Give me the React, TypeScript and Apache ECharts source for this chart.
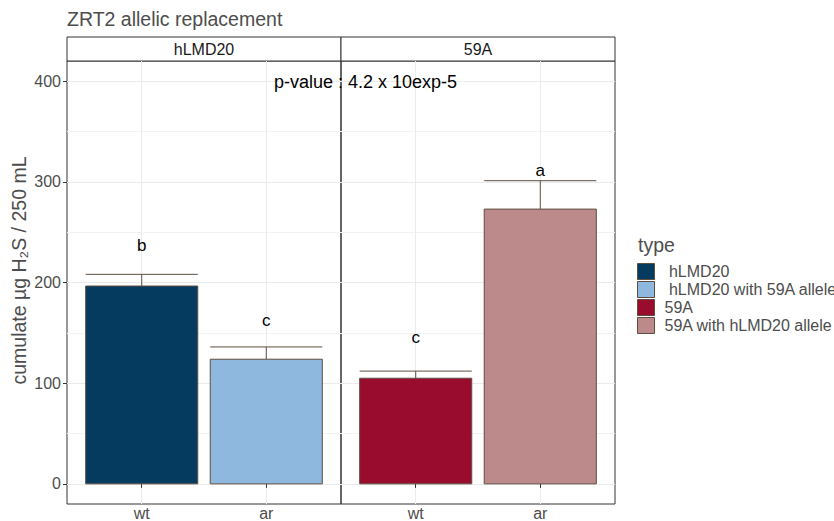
import React, { useEffect, useRef } from 'react';
import * as echarts from 'echarts';

const facets = ['hLMD20', '59A'];
const conditions = ['wt', 'ar'];
const types = [' hLMD20', ' hLMD20 with 59A allele', '59A', '59A with hLMD20 allele'];
const typeFacet = [0, 0, 1, 1];
const typeCondition = [1, 2, 1, 2];
const means = [196.5, 123.8, 104.9, 272.9];
const errTop = [208.1, 136.0, 112.0, 301.1];
const letters = ['b', 'c', 'c', 'a'];
const letterY = [236.5, 162, 145, 311.6];
const colors = ['#063b60', '#8fb8de', '#990c2e', '#bc8a8a'];
const yTicks = [0, 100, 200, 300, 400];
const yMinor = [50, 150, 250, 350];
const title = 'ZRT2 allelic replacement';
const yTitle = 'cumulate µg H₂S / 250 mL';
const legendTitle = 'type';
const pText = 'p-value : 4.2 x 10exp-5';

const FONT = '"Liberation Sans", Arial, sans-serif';
const GREY = '#4d4d4d';
const BORDER = '#333333';
const GRIDC = '#ebebeb';
const ERRC = '#5e4e40';

const PANEL_LEFT = 67;
const PANEL_W = 274;
const PANEL_TOP = 61;
const PANEL_H = 443;
const STRIP_TOP = 37;
const STRIP_H = 24;

export default function App() {
  const ref = useRef<HTMLDivElement>(null);
  useEffect(() => {
    if (!ref.current) return;
    const chart = echarts.init(ref.current, undefined, { renderer: 'svg' });

    const grids = facets.map((_, i) => ({
      left: PANEL_LEFT + i * PANEL_W,
      top: PANEL_TOP,
      width: PANEL_W,
      height: PANEL_H,
      show: true,
      borderColor: BORDER,
      borderWidth: 1,
      backgroundColor: 'transparent',
      containLabel: false,
      outerBoundsMode: 'none',
    }));

    const xAxes = facets.map((_, i) => ({
      type: 'value',
      gridIndex: i,
      min: 0.4,
      max: 2.6,
      axisLine: { show: false },
      axisTick: { show: true, customValues: [1, 2], length: 4, lineStyle: { color: BORDER, width: 1 } },
      axisLabel: {
        show: true,
        customValues: [1, 2],
        formatter: (v: number) => conditions[Math.round(v) - 1] ?? '',
        color: GREY,
        fontSize: 16,
        lineHeight: 16,
        fontFamily: FONT,
        margin: 1,
      },
      splitLine: { show: true, lineStyle: { color: GRIDC, width: 1 } },
      minorSplitLine: { show: false },
    }));

    const yAxes: any[] = [];
    facets.forEach((_, i) => {
      yAxes.push({
        type: 'value',
        gridIndex: i,
        min: -20,
        max: 420,
        position: 'left',
        axisLine: { show: false },
        axisTick: { show: i === 0, customValues: yTicks, length: 4, lineStyle: { color: BORDER, width: 1 } },
        axisLabel: {
          show: i === 0,
          customValues: yTicks,
          color: GREY,
          fontSize: 16,
          fontFamily: FONT,
          margin: 6,
        },
        splitLine: { show: true, lineStyle: { color: GRIDC, width: 1 } },
      });
      yAxes.push({
        type: 'value',
        gridIndex: i,
        min: -20,
        max: 420,
        position: 'left',
        axisLine: { show: false },
        axisTick: { show: false, customValues: yMinor },
        axisLabel: { show: false, customValues: yMinor },
        splitLine: { show: true, lineStyle: { color: '#f2f2f2', width: 1 } },
      });
    });

    const series = types.map((name, k) => ({
      type: 'custom',
      name,
      xAxisIndex: typeFacet[k],
      yAxisIndex: typeFacet[k] * 2,
      clip: false,
      itemStyle: { color: colors[k], borderColor: ERRC, borderWidth: 1 },
      data: [[typeCondition[k], means[k], errTop[k], letterY[k]]],
      renderItem: (params: any, api: any) => {
        const x = api.value(0);
        const v = api.value(1);
        const e = api.value(2);
        const ly = api.value(3);
        const bl = api.coord([x - 0.45, 0]);
        const tr = api.coord([x + 0.45, v]);
        const top = api.coord([x, e]);
        const mid = api.coord([x, v]);
        const lab = api.coord([x, ly]);
        return {
          type: 'group',
          children: [
            { type: 'line', shape: { x1: mid[0], y1: mid[1], x2: top[0], y2: top[1] }, style: { stroke: ERRC, lineWidth: 1 } },
            { type: 'line', shape: { x1: bl[0], y1: top[1], x2: tr[0], y2: top[1] }, style: { stroke: ERRC, lineWidth: 1 } },
            {
              type: 'rect',
              shape: { x: bl[0], y: tr[1], width: tr[0] - bl[0], height: bl[1] - tr[1] },
              style: { fill: colors[k], stroke: ERRC, lineWidth: 1 },
            },
            {
              type: 'text',
              x: lab[0],
              y: lab[1],
              style: { text: letters[k], fill: '#000', fontSize: 17, fontFamily: FONT, align: 'center', verticalAlign: 'middle' },
            },
          ],
        };
      },
    }));

    const graphic: any[] = [
      {
        type: 'text',
        left: PANEL_LEFT,
        top: 9,
        style: { text: title, fill: GREY, fontSize: 19.5, fontFamily: FONT },
      },
      {
        type: 'text',
        x: 19,
        y: (STRIP_TOP + PANEL_TOP + PANEL_H) / 2,
        rotation: Math.PI / 2,
        style: { text: yTitle, fill: GREY, fontSize: 19.5, fontFamily: FONT, align: 'center', verticalAlign: 'middle' },
      },
      {
        type: 'text',
        x: 638,
        y: 245,
        style: { text: legendTitle, fill: GREY, fontSize: 19.5, fontFamily: FONT, align: 'left', verticalAlign: 'middle' },
      },
      {
        type: 'text',
        x: 274,
        y: 81.5,
        z: 100,
        style: { text: pText, fill: '#000', fontSize: 18, fontFamily: FONT, align: 'left', verticalAlign: 'middle' },
      },
    ];
    facets.forEach((f, i) => {
      graphic.push({
        type: 'rect',
        shape: { x: PANEL_LEFT + i * PANEL_W, y: STRIP_TOP, width: PANEL_W, height: STRIP_H },
        style: { fill: '#ffffff', stroke: BORDER, lineWidth: 1 },
      });
      graphic.push({
        type: 'text',
        x: PANEL_LEFT + i * PANEL_W + PANEL_W / 2,
        y: STRIP_TOP + STRIP_H / 2 + 0.5,
        style: { text: f, fill: '#1a1a1a', fontSize: 16, fontFamily: FONT, align: 'center', verticalAlign: 'middle' },
      });
    });

    chart.setOption({
      animation: false,
      backgroundColor: '#ffffff',
      textStyle: { fontFamily: FONT },
      grid: grids,
      xAxis: xAxes,
      yAxis: yAxes,
      legend: {
        data: types,
        orient: 'vertical',
        left: 637,
        top: 263,
        itemWidth: 17,
        itemHeight: 16,
        itemGap: 1,
        icon: 'rect',
        padding: 0,
        selectedMode: false,
        textStyle: { fontSize: 16, color: GREY, fontFamily: FONT, padding: [0, 0, 0, 5] },
        itemStyle: { borderColor: ERRC, borderWidth: 1 },
      },
      series,
      graphic,
    } as any);
    return () => chart.dispose();
  }, []);
  return <div ref={ref} style={{ position: 'fixed', left: 0, top: 0, width: 834, height: 521 }} />;
}
